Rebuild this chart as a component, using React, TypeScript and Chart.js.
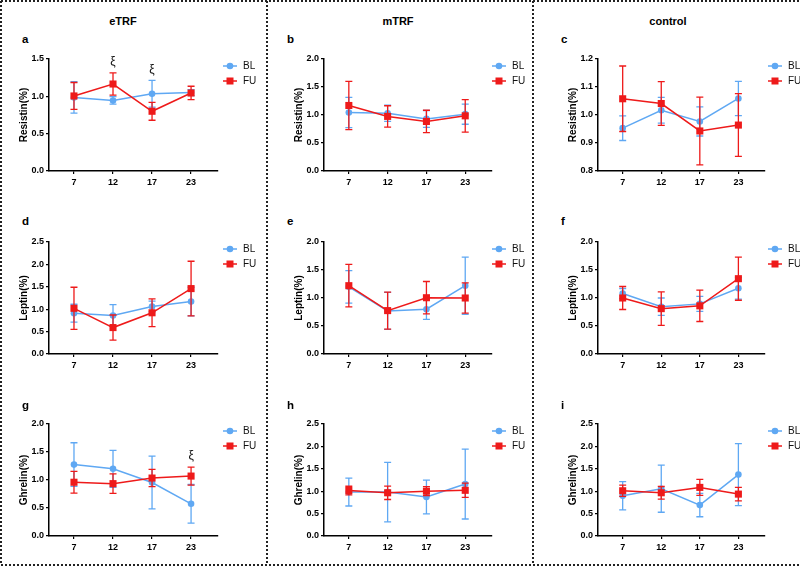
import React, { useEffect, useRef } from "react";
import { Chart, registerables } from "chart.js";
Chart.register(...registerables);

// ---------- data ----------
const timepoints = ["7", "12", "17", "23"];
const groups = ["eTRF", "mTRF", "control"];
const hormones = ["Resistin(%)", "Leptin(%)", "Ghrelin(%)"];
const panelLetters = [["a", "b", "c"], ["d", "e", "f"], ["g", "h", "i"]];
const seriesNames = ["BL", "FU"];

// Resistin
const resistin_eTRF_BL = [0.985, 0.945, 1.035, 1.05];
const resistin_eTRF_BL_err = [0.21, 0.05, 0.18, 0.04];
const resistin_eTRF_FU = [1.005, 1.165, 0.8, 1.045];
const resistin_eTRF_FU_err = [0.18, 0.15, 0.12, 0.09];

const resistin_mTRF_BL = [1.045, 1.03, 0.93, 1.015];
const resistin_mTRF_BL_err = [0.27, 0.145, 0.15, 0.18];
const resistin_mTRF_FU = [1.17, 0.975, 0.885, 0.985];
const resistin_mTRF_FU_err = [0.43, 0.19, 0.2, 0.29];

const resistin_control_BL = [0.953, 1.017, 0.977, 1.059];
const resistin_control_BL_err = [0.044, 0.046, 0.052, 0.061];
const resistin_control_FU = [1.058, 1.041, 0.943, 0.964];
const resistin_control_FU_err = [0.117, 0.078, 0.121, 0.112];

// Leptin
const leptin_eTRF_BL = [0.91, 0.86, 1.06, 1.17];
const leptin_eTRF_BL_err = [0.2, 0.24, 0.12, 0.32];
const leptin_eTRF_FU = [1.02, 0.59, 0.92, 1.46];
const leptin_eTRF_FU_err = [0.47, 0.28, 0.31, 0.61];

const leptin_mTRF_BL = [1.2, 0.77, 0.8, 1.22];
const leptin_mTRF_BL_err = [0.29, 0.33, 0.18, 0.51];
const leptin_mTRF_FU = [1.22, 0.775, 1.005, 1.0];
const leptin_mTRF_FU_err = [0.38, 0.33, 0.29, 0.27];

const leptin_control_BL = [1.08, 0.845, 0.895, 1.175];
const leptin_control_BL_err = [0.09, 0.155, 0.135, 0.195];
const leptin_control_FU = [1.0, 0.81, 0.86, 1.345];
const leptin_control_FU_err = [0.205, 0.3, 0.28, 0.385];

// Ghrelin
const ghrelin_eTRF_BL = [1.275, 1.2, 0.955, 0.575];
const ghrelin_eTRF_BL_err = [0.39, 0.33, 0.47, 0.345];
const ghrelin_eTRF_FU = [0.96, 0.935, 1.035, 1.07];
const ghrelin_eTRF_FU_err = [0.195, 0.175, 0.155, 0.16];

const ghrelin_mTRF_BL = [0.98, 0.98, 0.87, 1.16];
const ghrelin_mTRF_BL_err = [0.31, 0.665, 0.375, 0.78];
const ghrelin_mTRF_FU = [1.015, 0.965, 1.0, 1.02];
const ghrelin_mTRF_FU_err = [0.095, 0.15, 0.1, 0.16];

const ghrelin_control_BL = [0.9, 1.055, 0.69, 1.37];
const ghrelin_control_BL_err = [0.315, 0.525, 0.26, 0.69];
const ghrelin_control_FU = [1.01, 0.965, 1.085, 0.935];
const ghrelin_control_FU_err = [0.125, 0.14, 0.18, 0.15];

// y-axis ranges per panel [row][col]
const yMins = [[0, 0, 0.8], [0, 0, 0], [0, 0, 0]];
const yMaxs = [[1.5, 2.0, 1.2], [2.5, 2.0, 2.0], [2.0, 2.5, 2.5]];
const ySteps = [[0.5, 0.5, 0.1], [0.5, 0.5, 0.5], [0.5, 0.5, 0.5]];

// significance marks ξ : [row, col, timepoint index]
const xiMarks = [[0, 0, 1], [0, 0, 2], [2, 0, 3]];

// ---------- build ----------
const panelData = [
  [
    [resistin_eTRF_BL, resistin_eTRF_BL_err, resistin_eTRF_FU, resistin_eTRF_FU_err],
    [resistin_mTRF_BL, resistin_mTRF_BL_err, resistin_mTRF_FU, resistin_mTRF_FU_err],
    [resistin_control_BL, resistin_control_BL_err, resistin_control_FU, resistin_control_FU_err],
  ],
  [
    [leptin_eTRF_BL, leptin_eTRF_BL_err, leptin_eTRF_FU, leptin_eTRF_FU_err],
    [leptin_mTRF_BL, leptin_mTRF_BL_err, leptin_mTRF_FU, leptin_mTRF_FU_err],
    [leptin_control_BL, leptin_control_BL_err, leptin_control_FU, leptin_control_FU_err],
  ],
  [
    [ghrelin_eTRF_BL, ghrelin_eTRF_BL_err, ghrelin_eTRF_FU, ghrelin_eTRF_FU_err],
    [ghrelin_mTRF_BL, ghrelin_mTRF_BL_err, ghrelin_mTRF_FU, ghrelin_mTRF_FU_err],
    [ghrelin_control_BL, ghrelin_control_BL_err, ghrelin_control_FU, ghrelin_control_FU_err],
  ],
];

const BLUE = "#5fa8f3";
const RED = "#ee1a1a";
const FONT = "'Liberation Sans', Arial, Helvetica, sans-serif";

// layout geometry (px)
const plotLefts = [49, 324, 598];
const plotRights = [218, 492, 765];
const plotTops = [59, 242, 424];
const plotBottoms = [171, 354, 536];
const legendOffsets = [5, 0, 3];
const Y_AXIS_W = 46;
const X_AXIS_H = 22;
const PAD_TOP = 12;
const PAD_RIGHT = 46;

function Panel({ r, c }: { r: number; c: number }) {
  const ref = useRef<HTMLCanvasElement>(null);
  const left = plotLefts[c] - Y_AXIS_W;
  const top = plotTops[r] - PAD_TOP;
  const width = plotRights[c] - plotLefts[c] + Y_AXIS_W + PAD_RIGHT;
  const height = plotBottoms[r] - plotTops[r] + PAD_TOP + X_AXIS_H;

  useEffect(() => {
    if (!ref.current) return;
    const [bl, blErr, fu, fuErr] = panelData[r][c];
    const errs = [blErr, fuErr];
    const colors = [BLUE, RED];
    const marks = xiMarks.filter((m) => m[0] === r && m[1] === c).map((m) => m[2]);

    const errorBars = {
      id: "errorBars",
      beforeDatasetDraw(chart: any, args: any) {
        const idx = args.index;
        const ds = chart.data.datasets[idx];
        const y = chart.scales.y;
        const ctx = chart.ctx;
        ctx.save();
        ctx.strokeStyle = colors[idx];
        ctx.lineWidth = 1.3;
        args.meta.data.forEach((pt: any, i: number) => {
          const v = ds.data[i].y;
          const e = errs[idx][i];
          const yt = y.getPixelForValue(v + e);
          const yb = y.getPixelForValue(v - e);
          const x = pt.x;
          ctx.beginPath();
          ctx.moveTo(x, yt);
          ctx.lineTo(x, yb);
          ctx.moveTo(x - 3.5, yt);
          ctx.lineTo(x + 3.5, yt);
          ctx.moveTo(x - 3.5, yb);
          ctx.lineTo(x + 3.5, yb);
          ctx.stroke();
        });
        ctx.restore();
      },
    };

    const extras = {
      id: "extras",
      afterDraw(chart: any) {
        const ctx = chart.ctx;
        const area = chart.chartArea;
        const xs = chart.scales.x;
        const ys = chart.scales.y;
        // legend
        seriesNames.forEach((name, k) => {
          const x0 = area.right + legendOffsets[c];
          const yy = area.top + 7 + k * 15;
          ctx.save();
          ctx.strokeStyle = colors[k];
          ctx.fillStyle = colors[k];
          ctx.lineWidth = 1.5;
          ctx.beginPath();
          ctx.moveTo(x0, yy);
          ctx.lineTo(x0 + 14, yy);
          ctx.stroke();
          if (k === 0) {
            ctx.beginPath();
            ctx.arc(x0 + 7, yy, 3.3, 0, Math.PI * 2);
            ctx.fill();
          } else {
            ctx.fillRect(x0 + 3.5, yy - 3.5, 7, 7);
          }
          ctx.fillStyle = "#111";
          ctx.font = `10px ${FONT}`;
          ctx.textBaseline = "middle";
          ctx.textAlign = "left";
          ctx.fillText(name, x0 + 20, yy + 0.5);
          ctx.restore();
        });
        // significance marks
        marks.forEach((i) => {
          let topVal = -Infinity;
          chart.data.datasets.forEach((ds: any, k: number) => {
            topVal = Math.max(topVal, ds.data[i].y + errs[k][i]);
          });
          ctx.save();
          ctx.fillStyle = "#111";
          ctx.font = `12px ${FONT}`;
          ctx.textAlign = "center";
          ctx.textBaseline = "middle";
          ctx.fillText("ξ", xs.getPixelForValue(i), ys.getPixelForValue(topVal) - 11);
          ctx.restore();
        });
      },
    };

    const axisGrid = {
      drawOnChartArea: false,
      drawTicks: true,
      tickLength: 3,
      color: "#000",
      lineWidth: 1.2,
    };
    const axisBorder = { display: true, color: "#000", width: 1.5 };

    const chart = new Chart(ref.current, {
      type: "line",
      data: {
        datasets: [
          {
            label: seriesNames[0],
            data: bl.map((v, i) => ({ x: i, y: v })),
            borderColor: BLUE,
            backgroundColor: BLUE,
            borderWidth: 1.5,
            pointStyle: "circle",
            pointRadius: 3.3,
            pointBorderWidth: 0,
            tension: 0,
            order: 2,
          },
          {
            label: seriesNames[1],
            data: fu.map((v, i) => ({ x: i, y: v })),
            borderColor: RED,
            backgroundColor: RED,
            borderWidth: 1.5,
            pointStyle: "rect",
            pointRadius: 5,
            pointBorderWidth: 0,
            tension: 0,
            order: 1,
          },
        ],
      },
      options: {
        responsive: false,
        maintainAspectRatio: false,
        animation: false,
        events: [],
        layout: { padding: { left: 0, top: PAD_TOP, right: PAD_RIGHT, bottom: 0 } },
        plugins: { legend: { display: false }, tooltip: { enabled: false } },
        scales: {
          x: {
            type: "linear",
            min: -0.64,
            max: 3.69,
            afterBuildTicks: (s: any) => {
              s.ticks = timepoints.map((_, i) => ({ value: i }));
            },
            afterFit: (s: any) => {
              s.height = X_AXIS_H;
            },
            ticks: {
              autoSkip: false,
              maxRotation: 0,
              padding: 3,
              color: "#000",
              font: { family: FONT, size: 9, weight: "bold" },
              callback: (v: any) => timepoints[Math.round(Number(v))] ?? "",
            },
            grid: axisGrid,
            border: axisBorder,
          },
          y: {
            type: "linear",
            min: yMins[r][c],
            max: yMaxs[r][c],
            afterFit: (s: any) => {
              s.width = Y_AXIS_W;
            },
            ticks: {
              stepSize: ySteps[r][c],
              padding: 2,
              color: "#000",
              font: { family: FONT, size: 9, weight: "bold" },
              callback: (v: any) => Number(v).toFixed(1),
            },
            grid: axisGrid,
            border: axisBorder,
            title: {
              display: true,
              text: hormones[r],
              color: "#000",
              font: { family: FONT, size: 10, weight: "bold" },
              padding: { top: 15, bottom: 0 },
            },
          },
        },
      },
      plugins: [errorBars, extras],
    } as any);
    return () => chart.destroy();
  }, [r, c]);

  return (
    <canvas
      ref={ref}
      width={width}
      height={height}
      style={{ position: "absolute", left, top, width, height }}
    />
  );
}

const titleCenters = [123, 398, 668];
const letterLefts = [22, 287, 561];
const letterCenters = [40, 222, 406];

export default function App() {
  const textStyle: React.CSSProperties = {
    position: "absolute",
    fontFamily: FONT,
    fontWeight: "bold",
    fontSize: 11,
    lineHeight: 1,
    whiteSpace: "nowrap",
    color: "#000",
  };
  return (
    <div
      style={{
        position: "absolute",
        left: 0,
        top: 0,
        width: 800,
        height: 566,
        background: "#fff",
        overflow: "hidden",
      }}
    >
      {[0, 1, 2].map((r) =>
        [0, 1, 2].map((c) => <Panel key={`${r}-${c}`} r={r} c={c} />)
      )}
      {groups.map((g, c) => (
        <div
          key={g}
          style={{ ...textStyle, left: titleCenters[c], top: 21, transform: "translate(-50%, -50%)" }}
        >
          {g}
        </div>
      ))}
      {panelLetters.map((row, r) =>
        row.map((l, c) => (
          <div
            key={l}
            style={{ ...textStyle, fontSize: 11.5, left: letterLefts[c], top: letterCenters[r], transform: "translateY(-50%)" }}
          >
            {l}
          </div>
        ))
      )}
      <svg
        width={800}
        height={566}
        style={{ position: "absolute", left: 0, top: 0, pointerEvents: "none" }}
      >
        <g stroke="#222" strokeWidth={2} strokeDasharray="2 2" fill="none">
          <line x1={1} y1={1} x2={800} y2={1} />
          <line x1={1} y1={1} x2={1} y2={565} />
          <line x1={1} y1={565} x2={800} y2={565} />
          <line x1={267} y1={1} x2={267} y2={565} />
          <line x1={533} y1={1} x2={533} y2={565} />
        </g>
      </svg>
    </div>
  );
}
